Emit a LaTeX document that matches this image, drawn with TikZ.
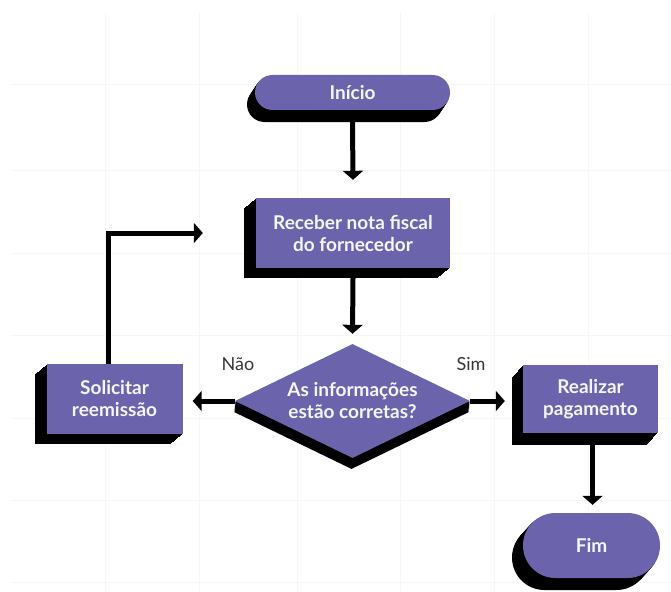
\documentclass[tikz,border=0pt]{standalone}
\usepackage{fontspec}
\setmainfont{Lato}
\usetikzlibrary{shapes.geometric,arrows.meta,shadows,calc}
\definecolor{purp}{RGB}{107,100,172}
\definecolor{txtc}{RGB}{245,245,245}
\definecolor{lblc}{RGB}{55,55,55}
\definecolor{gridc}{RGB}{246,246,246}
\begin{document}
\begin{tikzpicture}[x=1pt,y=-1pt,
  ext/.style 2 args={general shadow={fill=black,draw=none,shadow xshift=#1,shadow yshift=#2}},
  extrude/.style 2 args={
     ext={#1*0.0833pt}{#2*0.0833pt},ext={#1*0.1667pt}{#2*0.1667pt},ext={#1*0.25pt}{#2*0.25pt},
     ext={#1*0.3333pt}{#2*0.3333pt},ext={#1*0.4167pt}{#2*0.4167pt},ext={#1*0.5pt}{#2*0.5pt},
     ext={#1*0.5833pt}{#2*0.5833pt},ext={#1*0.6667pt}{#2*0.6667pt},ext={#1*0.75pt}{#2*0.75pt},
     ext={#1*0.8333pt}{#2*0.8333pt},ext={#1*0.9167pt}{#2*0.9167pt},ext={#1*1pt}{#2*1pt}},
  base/.style={fill=purp,text=txtc,font=\fontsize{19}{22}\selectfont\bfseries,align=center,inner sep=0pt},
  pill/.style={base,rectangle,rounded corners=#1},
  box/.style={base,rectangle},
  decision/.style={base,diamond,aspect=2.06},
  arr/.style={line width=5pt,-{Triangle[width=20pt,length=9pt]}},
  lbl/.style={text=lblc,font=\fontsize{18}{21}\selectfont,inner sep=0pt}
]
\useasboundingbox (0,0) rectangle (671,591);
\fill[white] (0,0) rectangle (671,591);
% faint grid
\foreach \gx in {105,199,297,400,494,588} \draw[gridc,line width=1pt] (\gx,13) -- (\gx,591);
\foreach \gy in {85,170,253,335,418,500,582} \draw[gridc,line width=1pt] (10,\gy) -- (671,\gy);

\node[pill=17.5pt,minimum width=195pt,minimum height=35pt,extrude={-8}{-12}] (ini) at (352.5,92.5) {Início};
\node[box,minimum width=194pt,minimum height=70pt,extrude={-12}{-10}] (rec) at (353,233) {Receber nota fiscal\\do fornecedor};
\node[decision,minimum width=235pt,minimum height=114pt,extrude={-1}{-11}] (dec) at (352.5,401) {As informações\\estão corretas?};
\node[box,minimum width=136pt,minimum height=70pt,extrude={-12}{-10}] (sol) at (114.5,399) {Solicitar\\reemissão};
\node[box,minimum width=135pt,minimum height=68pt,extrude={-11}{-12}] (rea) at (590.5,399) {Realizar\\pagamento};
\node[pill=32.5pt,minimum width=137pt,minimum height=65pt,extrude={-11}{-12}] (fim) at (591.5,545.5) {Fim};

\node[lbl] (nao) at (238,364) {Não};
\node[lbl] (sim) at (471,364) {Sim};

\draw[arr] ([yshift=-12pt]ini.south) -- ([yshift=18pt]rec.north);
\draw[arr] ([yshift=-10pt]rec.south) -- ([yshift=10pt]dec.north);
\draw[arr] (dec.west) -- ([xshift=10pt]sol.east |- dec.west);
\draw[arr] (dec.east) -- ([xshift=-18pt]rea.west |- dec.east);
\draw[arr] ([xshift=2pt,yshift=-12pt]rea.south) -- ([xshift=1pt,yshift=8pt]fim.north);
\coordinate (corner) at ([xshift=-6pt]sol.north |- rec.west);
\draw[arr] ([xshift=-6pt]sol.north) -- (corner) -- ([xshift=-53pt]rec.west);
\end{tikzpicture}
\end{document}
